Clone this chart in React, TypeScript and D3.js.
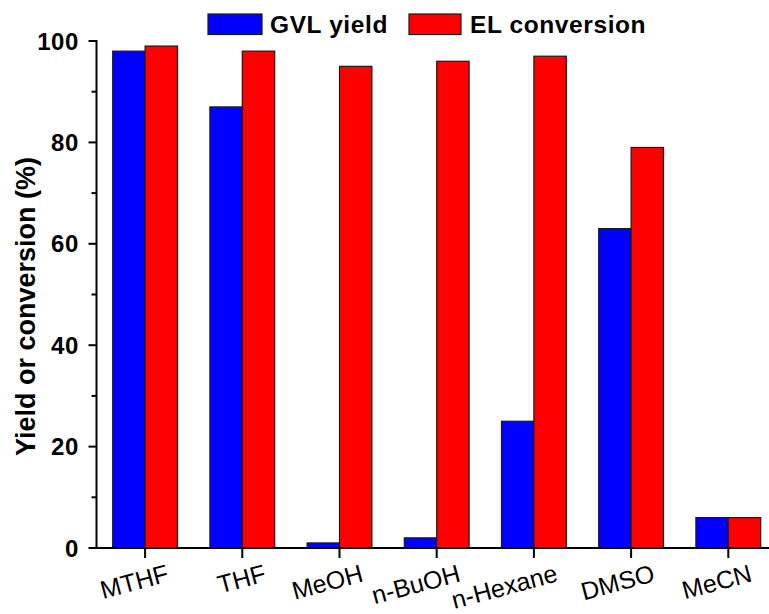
import React from "react";
import * as d3 from "d3";

const solvents = ["MTHF", "THF", "MeOH", "n-BuOH", "n-Hexane", "DMSO", "MeCN"];
const gvlYield = [98, 87, 1, 2, 25, 63, 6];
const elConversion = [99, 98, 95, 96, 97, 79, 6];
const yTicks = [0, 20, 40, 60, 80, 100];
const yMinorTicks = [10, 30, 50, 70, 90];

const W = 769;
const H = 614;
const left = 96.5;
const top = 41;
const bottom = 548;
const step = 97.2;

export default function App() {
  const x = d3
    .scaleBand<string>()
    .domain(solvents)
    .range([left, left + step * solvents.length])
    .paddingInner(1 / 3)
    .paddingOuter(1 / 6);
  const y = d3.scaleLinear().domain([0, 100]).range([bottom, top]);
  const bw = x.bandwidth() / 2;
  const font = "Arial, 'Liberation Sans', sans-serif";

  return (
    <svg
      width={W}
      height={H}
      style={{ position: "absolute", left: 0, top: 0, background: "#fff" }}
      fontFamily={font}
    >
      {/* bars */}
      {solvents.map((s, i) => (
        <g key={s}>
          <rect
            x={x(s)!}
            y={y(gvlYield[i])}
            width={bw}
            height={y(0) - y(gvlYield[i])}
            fill="#0000ff"
            stroke="#1a1a1a"
            strokeWidth={1.2}
          />
          <rect
            x={x(s)! + bw}
            y={y(elConversion[i])}
            width={bw}
            height={y(0) - y(elConversion[i])}
            fill="#ff0000"
            stroke="#1a1a1a"
            strokeWidth={1.2}
          />
        </g>
      ))}

      {/* y axis */}
      <line x1={left} x2={left} y1={top - 1} y2={bottom + 1} stroke="#000" strokeWidth={2} />
      {yTicks.map((t) => (
        <g key={t}>
          <line x1={left - 8} x2={left} y1={y(t)} y2={y(t)} stroke="#000" strokeWidth={2} />
          <text
            x={left - 17.5}
            y={y(t)}
            dy="0.36em"
            textAnchor="end"
            fontSize={24}
            fontWeight="bold"
            letterSpacing={0.6}
          >
            {t}
          </text>
        </g>
      ))}
      {yMinorTicks.map((t) => (
        <line key={t} x1={left - 5} x2={left} y1={y(t)} y2={y(t)} stroke="#000" strokeWidth={2} />
      ))}
      <text
        transform={`translate(35, ${(top + bottom) / 2 + 12}) rotate(-90)`}
        textAnchor="middle"
        fontSize={27}
        fontWeight="bold"
      >
        Yield or conversion (%)
      </text>

      {/* x axis */}
      <line x1={left - 1} x2={W} y1={bottom} y2={bottom} stroke="#000" strokeWidth={2} />
      {solvents.map((s) => {
        const cx = x(s)! + bw;
        return (
          <g key={s}>
            <line x1={cx} x2={cx} y1={bottom} y2={bottom + 10} stroke="#000" strokeWidth={2} />
            <text
              transform={`translate(${cx + 25}, ${bottom + 33}) rotate(-15)`}
              textAnchor="end"
              fontSize={25}
            >
              {s}
            </text>
          </g>
        );
      })}

      {/* legend */}
      <rect x={208} y={14} width={54} height={20.5} fill="#0000ff" stroke="#1a1a1a" strokeWidth={1.2} />
      <text x={270} y={33} fontSize={24.5} fontWeight="bold" letterSpacing={0.6}>
        GVL yield
      </text>
      <rect x={409} y={14} width={52} height={20.5} fill="#ff0000" stroke="#1a1a1a" strokeWidth={1.2} />
      <text x={470} y={33} fontSize={24.5} fontWeight="bold" letterSpacing={0.6}>
        EL conversion
      </text>
    </svg>
  );
}
